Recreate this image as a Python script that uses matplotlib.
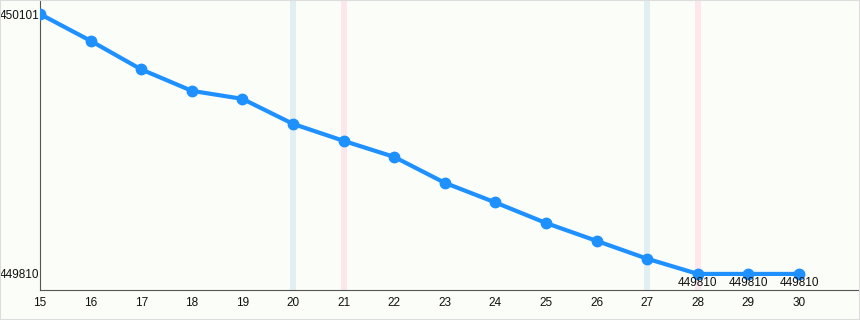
import matplotlib.pyplot as plt
from matplotlib.patches import Rectangle

# Data
days = [15, 16, 17, 18, 19, 20, 21, 22, 23, 24, 25, 26, 27, 28, 29, 30]
values = [450101, 450071, 450039, 450015, 450006, 449978, 449959, 449941,
          449912, 449890, 449867, 449847, 449827, 449810, 449810, 449810]
blue_bands = [20, 27]
pink_bands = [21, 28]
labelled_days = [28, 29, 30]

plt.rcParams['font.family'] = ['Liberation Sans', 'DejaVu Sans']

bg = '#fbfdf8'
fig = plt.figure(figsize=(8.6, 3.2), dpi=100, facecolor=bg)
ax = fig.add_axes([40 / 860, 30 / 320, 820 / 860, 290 / 320])
ax.set_facecolor(bg)

for d in blue_bands:
    ax.axvspan(d - 0.06, d + 0.06, color='#e2eff2', zorder=1, lw=0)
for d in pink_bands:
    ax.axvspan(d - 0.06, d + 0.06, color='#fde6ec', zorder=1, lw=0)

ax.plot(days, values, color='#1e90ff', linewidth=3, marker='o',
        markersize=7.5, zorder=3)

for d, v in zip(days, values):
    if d in labelled_days:
        ax.annotate(str(v), (d, v), xytext=(0, -2), textcoords='offset points',
                    ha='center', va='top', fontsize=8.5, color='#111111')

ax.set_xlim(15, 15 + 820 / 50.6)
ax.set_ylim(449792, 450116.7)
ax.set_xticks(days)
ax.set_yticks([449810, 450101])
ax.set_yticklabels(['449810', '450101'])
ax.tick_params(axis='both', length=0, labelsize=8.5, colors='#111111')
ax.tick_params(axis='x', pad=5)
ax.tick_params(axis='y', pad=0.3)

for s in ['top', 'right']:
    ax.spines[s].set_visible(False)
ax.spines['left'].set_color('#555555')
ax.spines['bottom'].set_color('#555555')
ax.spines['left'].set_linewidth(0.8)
ax.spines['bottom'].set_linewidth(0.8)

fig.patches.append(Rectangle((0, 0), 1, 1, transform=fig.transFigure,
                             fill=False, edgecolor='#dddddd', lw=1.5))

fig.savefig('out.png', dpi=100, facecolor=bg)
